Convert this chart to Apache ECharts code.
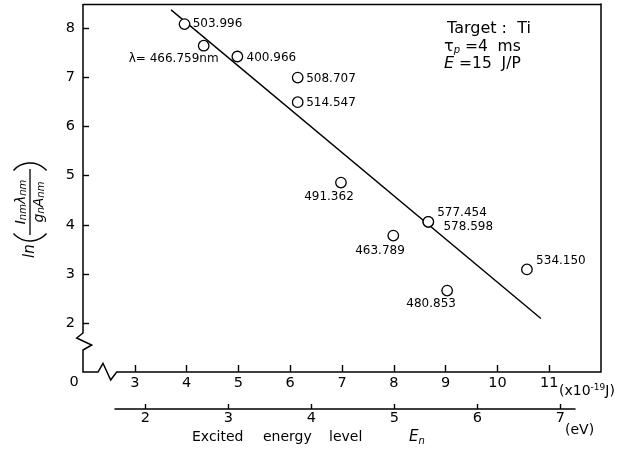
<!DOCTYPE html>
<html><head><meta charset="utf-8">
<script src="https://cdn.jsdelivr.net/npm/echarts@6/dist/echarts.min.js"></script>
<style>html,body{margin:0;padding:0;background:#fff}#c{width:634px;height:450px}</style>
</head><body><div id="c"></div>
<script>
// ---- data ----
const wavelengths = ['503.996','466.759','400.966','508.707','514.547','491.362','577.454','578.598','463.789','480.853','534.150'];
const energyJ   = [3.96, 4.33, 4.98, 6.145, 6.145, 6.98, 8.666, 8.666, 7.99, 9.03, 10.57];
const lnValues  = [8.09, 7.65, 7.43, 7.00, 6.50, 4.86, 4.06, 4.06, 3.78, 2.66, 3.09];
const fitLineJ  = [3.70, 10.84];
const fitLineLn = [8.38, 2.09];
const xTicksJ  = [3,4,5,6,7,8,9,10,11];
const yTicks   = [2,3,4,5,6,7,8];
const xTicksEV = [2,3,4,5,6,7];

// ---- label placement (style, not data) ----
const labelOffsets = [[33,0],[-30,13.6],[34,1.6],[33.3,1.3],[33.3,0.3],[-12,14],[33.7,-9],[40,5],[-13.3,15],[-16,13.6],[34,-8.6]];

const FONT = 'DejaVu Sans';
const BLACK = '#000';
const chart = echarts.init(document.getElementById('c'), null, {renderer:'canvas'});

const scatterData = energyJ.map((x,i)=>({
  value:[x, lnValues[i]],
  label:{offset: labelOffsets[i], formatter: i===1 ? 'λ= ' + wavelengths[i] + 'nm' : wavelengths[i]}
}));

const option = {
  backgroundColor:'#fff',
  animation:false,
  grid:[
    {left:83, right:33, top:4, bottom:78, outerBoundsMode:'none'},
    {left:115, right:59, top:399, bottom:41, outerBoundsMode:'none'}
  ],
  xAxis:[
    {type:'value', gridIndex:0, min:2, max:12, position:'bottom',
     axisLine:{show:false},
     axisTick:{show:true, inside:true, length:7, customValues:xTicksJ, lineStyle:{color:BLACK, width:1.4}},
     axisLabel:{show:true, customValues:xTicksJ, margin:4, fontSize:14.5, fontFamily:FONT, color:BLACK},
     splitLine:{show:false}},
    {type:'value', gridIndex:0, min:2, max:12, position:'top',
     axisLine:{show:true, lineStyle:{color:BLACK, width:1.4}},
     axisTick:{show:false}, axisLabel:{show:false}, splitLine:{show:false}},
    {type:'value', gridIndex:1, min:1.634, max:7.177, position:'bottom',
     axisLine:{show:true, lineStyle:{color:BLACK, width:1.5}},
     axisTick:{show:true, inside:true, length:5, customValues:xTicksEV, lineStyle:{color:BLACK, width:1.4}},
     axisLabel:{show:true, customValues:xTicksEV, margin:2, fontSize:14.5, fontFamily:FONT, color:BLACK},
     splitLine:{show:false}}
  ],
  yAxis:[
    {type:'value', gridIndex:0, min:1, max:8.5,
     axisLine:{show:false},
     axisTick:{show:true, inside:true, length:6, customValues:yTicks, lineStyle:{color:BLACK, width:1.4}},
     axisLabel:{show:true, customValues:yTicks, margin:8, fontSize:14.5, fontFamily:FONT, color:BLACK},
     splitLine:{show:false}},
    {type:'value', gridIndex:0, min:1, max:8.5, position:'right',
     axisLine:{show:true, lineStyle:{color:BLACK, width:1.5}},
     axisTick:{show:false}, axisLabel:{show:false}, splitLine:{show:false}},
    {type:'value', gridIndex:1, show:false, min:0, max:1}
  ],
  series:[
    {type:'line', xAxisIndex:0, yAxisIndex:0, data: fitLineJ.map((x,i)=>[x, fitLineLn[i]]),
     showSymbol:false, symbol:'none', lineStyle:{color:BLACK, width:1.4}, z:2, silent:true},
    {type:'scatter', xAxisIndex:0, yAxisIndex:0, data: scatterData,
     symbol:'circle', symbolSize:10.5,
     itemStyle:{color:'#fff', borderColor:BLACK, borderWidth:1.3, opacity:1},
     label:{show:true, position:'inside', align:'center', verticalAlign:'middle',
            fontSize:12, fontFamily:FONT, color:BLACK},
     z:3}
  ]
};
chart.setOption(option);

const o = chart.convertToPixel({xAxisIndex:0, yAxisIndex:0}, [2,1]);
const tp = chart.convertToPixel({xAxisIndex:0, yAxisIndex:0}, [2,8.5]);
const rp = chart.convertToPixel({xAxisIndex:0, yAxisIndex:0}, [12,1]);
const ox = o[0], oy = o[1];

const txt = (x,y,style)=>({type:'text', x, y, style:Object.assign({fontFamily:FONT, fill:BLACK, fontSize:14, verticalAlign:'middle', align:'left'}, style)});

chart.setOption({graphic:[
  // broken axes (left + bottom) with zigzag breaks
  {type:'polyline', shape:{points:[
      [ox, tp[1]], [ox, oy-39], [ox-6.3, oy-34], [ox+8.7, oy-27], [ox, oy-22], [ox, oy],
      [ox+15, oy], [ox+20, oy-8.7], [ox+27.7, oy+8], [ox+33.7, oy], [rp[0], oy]
    ]}, style:{stroke:BLACK, lineWidth:1.5, fill:null}, z:10},
  txt(ox-9, oy+10, {text:'0', align:'center', fontSize:14.5}),
  txt(559, 391, {text:'(x10{sup|-19}J)', rich:{sup:{fontSize:9, fontFamily:FONT, fill:BLACK, verticalAlign:'top', lineHeight:16}}}),
  txt(565, 430, {text:'(eV)'}),
  txt(192, 437, {text:'Excited'}),
  txt(263, 437, {text:'energy'}),
  txt(329, 437, {text:'level'}),
  txt(409, 437, {text:'{e|E}{s|n}', rich:{e:{fontSize:15, fontStyle:'italic', fontFamily:FONT, fill:BLACK, lineHeight:18},
                                        s:{fontSize:10, fontStyle:'italic', fontFamily:FONT, fill:BLACK, verticalAlign:'bottom', lineHeight:12}}}),
  // annotation
  txt(447, 28.5, {text:'Target :  Ti', fontSize:16}),
  txt(444, 46.5, {text:'{t|τ}{s|p} =4  ms', fontSize:15.5, rich:{t:{fontSize:16, fontFamily:FONT, fill:BLACK, lineHeight:18},
                                        s:{fontSize:10, fontStyle:'italic', fontFamily:FONT, fill:BLACK, verticalAlign:'bottom', lineHeight:12}}}),
  txt(444, 64, {text:'{e|E} =15  J/P', fontSize:15.5, rich:{e:{fontSize:16, fontStyle:'italic', fontFamily:FONT, fill:BLACK}}}),
  // y axis title: ln( I_nm λ_nm / g_n A_nm )
  {type:'group', x:30, y:210, rotation:Math.PI/2, children:[
    {type:'text', x:-48, y:0, style:{text:'ln', fontSize:15, fontStyle:'italic', fontFamily:FONT, fill:BLACK, align:'left', verticalAlign:'middle'}},
    {type:'arc', shape:{cx:-31+22, cy:0, r:22, startAngle:Math.PI-0.85, endAngle:Math.PI+0.85}, style:{stroke:BLACK, lineWidth:1.4, fill:null}},
    {type:'arc', shape:{cx:47-22, cy:0, r:22, startAngle:-0.85, endAngle:0.85}, style:{stroke:BLACK, lineWidth:1.4, fill:null}},
    {type:'line', shape:{x1:-25, y1:0, x2:41, y2:0}, style:{stroke:BLACK, lineWidth:1.3}},
    {type:'text', x:8, y:-9, style:{text:'I{s|nm}λ{s|nm}', fontSize:14, fontStyle:'italic', fontFamily:FONT, fill:BLACK, align:'center', verticalAlign:'middle',
       rich:{s:{fontSize:10, fontStyle:'italic', fontFamily:FONT, fill:BLACK, verticalAlign:'bottom', lineHeight:12}}}},
    {type:'text', x:8, y:9, style:{text:'g{s|n}A{s|nm}', fontSize:14, fontStyle:'italic', fontFamily:FONT, fill:BLACK, align:'center', verticalAlign:'middle',
       rich:{s:{fontSize:10, fontStyle:'italic', fontFamily:FONT, fill:BLACK, verticalAlign:'bottom', lineHeight:12}}}}
  ]}
]});
</script>
</body></html>
